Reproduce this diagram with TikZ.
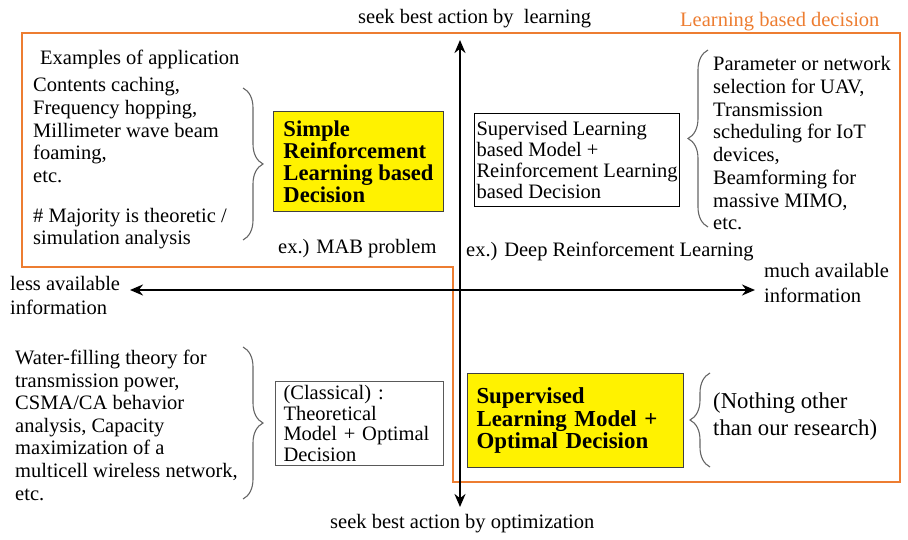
\documentclass[tikz,border=0pt]{standalone}
\usepackage{fontspec}
\setmainfont{Liberation Serif}
\usetikzlibrary{arrows.meta,decorations.pathreplacing}
\definecolor{frameorange}{RGB}{237,125,49}

\begin{document}
\begin{tikzpicture}[x=1pt,y=-1pt]
  \useasboundingbox (0,0) rectangle (908,540);

  % learning based decision frame
  \draw[frameorange, line width=2.4pt] (22,33) -- (900,33) -- (900,482) -- (453,482) -- (453,267) -- (22,267) -- cycle;

  \coordinate (up)   at (460,40);
  \coordinate (down) at (460,507);
  \coordinate (west) at (130,290);
  \coordinate (east) at (755,290);

  % multi-line texts sit on the baseline of their last line
  \begin{scope}[every node/.style={anchor=base west, inner sep=0pt, align=left, font=\fontsize{20.5}{22.6}\selectfont}]
    \node (learn)    at (358,24)  {seek best action by~ learning};
    \node (optim)    at (330,528) {seek best action by optimization};
    \node[text=frameorange] (lbd) at (680,27) {Learning based decision};
    \node[font=\fontsize{20.5}{24}\selectfont] (less) at (10,314)  {less available\\information};
    \node[font=\fontsize{20.5}{25}\selectfont] (much) at (764,302) {much available\\information};
    \node (examples) at (40,65)  {Examples of application};
    \node (apps)     at (33,245) {Contents caching,\\Frequency hopping,\\Millimeter wave beam\\foaming,\\etc.\\[17.5pt]\# Majority is theoretic /\\simulation analysis};
    \node (mab)      at (278,254) {ex.) MAB problem};
    \node (deep)     at (466,257) {ex.) Deep Reinforcement Learning};
    \node[font=\fontsize{20.5}{22.8}\selectfont] (uses) at (713,230) {Parameter or network\\selection for UAV,\\Transmission\\scheduling for IoT\\devices,\\Beamforming for\\massive MIMO,\\etc.};
    \node (theory)   at (15,500) {Water-filling theory for\\transmission power,\\CSMA/CA behavior\\analysis, Capacity\\maximization of a\\multicell wireless network,\\etc.};
    \node[font=\fontsize{22.7}{27}\selectfont] (nothing) at (713,435) {(Nothing other\\than our research)};
  \end{scope}

  \begin{scope}[every node/.style={draw, line width=1pt, anchor=north west, inner sep=0pt, align=left, font=\fontsize{20.5}{20.7}\selectfont}]
    \node[fill=yellow, draw=black!75, minimum width=170pt, minimum height=100pt,
          font=\bfseries\fontsize{22.6}{22}\selectfont] (simple) at (273,111) {Simple\\Reinforcement\\Learning based\\Decision};
    \node[minimum width=205pt, minimum height=93pt] (hybrid) at (474,113) {Supervised Learning\\based Model +\\Reinforcement Learning\\based Decision};
    \node[draw=black!65, text width=152pt, inner xsep=8pt, minimum height=84pt] (classic) at (275,381) {(Classical) :\\Theoretical\\Model + Optimal\\Decision};
    \node[fill=yellow, draw=black!75, text width=198pt, inner xsep=9pt, minimum height=94pt,
          font=\bfseries\fontsize{22.9}{22.5}\selectfont] (ours) at (467,373) {Supervised\\Learning Model +\\Optimal Decision};
  \end{scope}

  % braces
  \coordinate (b1n) at (243,88);  \coordinate (b1s) at (243,240);
  \coordinate (b2n) at (708,50);  \coordinate (b2s) at (708,227);
  \coordinate (b3n) at (243,347); \coordinate (b3s) at (243,499);
  \coordinate (b4n) at (710,373); \coordinate (b4s) at (710,467);
  \begin{scope}[every path/.style={draw=black!60, line width=1.1pt, decorate, decoration={brace, amplitude=20pt}}]
    \path (b1n) -- (b1s);
    \path (b2s) -- (b2n);
    \path (b3n) -- (b3s);
    \path (b4s) -- (b4n);
  \end{scope}

  % axes
  \draw[line width=2.5pt, {Stealth[length=13pt,width=11pt]}-{Stealth[length=13pt,width=11pt]}] (up) -- (down);
  \draw[line width=2.5pt, {Stealth[length=13pt,width=11pt]}-{Stealth[length=13pt,width=11pt]}] (west) -- (east);

\end{tikzpicture}
\end{document}
